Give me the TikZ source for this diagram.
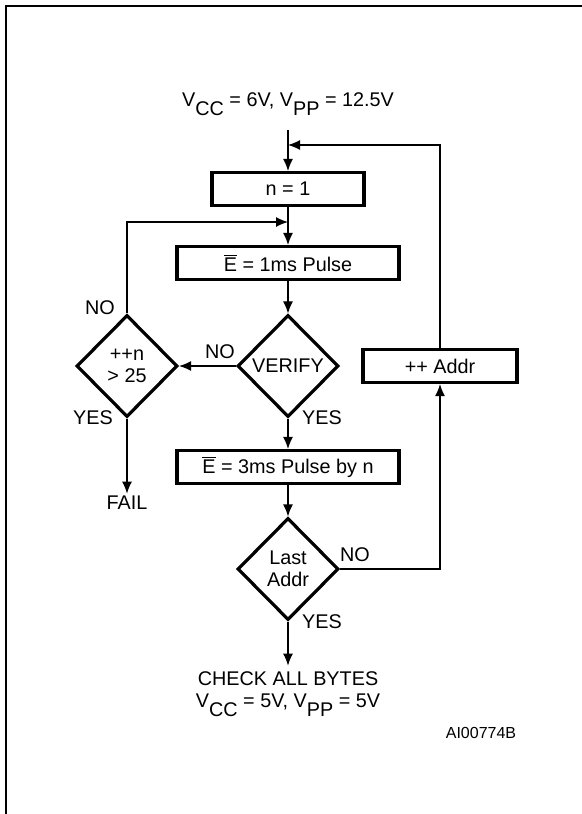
\documentclass[tikz,border=0pt]{standalone}
\usepackage{fontspec}
\setmainfont{Liberation Sans}
\usepackage{tikz}
\usetikzlibrary{shapes.geometric}
\usetikzlibrary{arrows.meta}
\tikzset{>={Latex[width=5pt,length=6pt]}}
\tikzset{
  box/.style={draw, line width=1.6pt, minimum height=16.5pt, inner sep=0pt},
  decision/.style={draw, diamond, line width=1.6pt, inner sep=0pt,
    minimum width=50.5pt, minimum height=51pt, align=center},
  lbl/.style={inner sep=1pt}
}
\newcommand{\lowsub}[1]{\raisebox{-0.45em}{#1}}
\newcommand{\Ebar}{$\overline{\mbox{E}}$}

\begin{document}
\begin{tikzpicture}[x=0.5pt, y=-0.5pt, line width=0.6pt,
  font=\fontsize{9.9}{11}\selectfont]

  \useasboundingbox (0,0) rectangle (582,814);
  \draw[line width=1.2pt] (6,814) -- (6,6) -- (582,6); %% frame

  \node[lbl] (vprog) at (288,104) {V\lowsub{CC} = 6V, V\lowsub{PP} = 12.5V};
  \coordinate (start) at (288,130);
  \coordinate (join1) at (288,145);
  \coordinate (join2) at (288,222);

  \node[box, minimum width=76pt] (init) at (288,189) {n = 1};
  \node[box, minimum width=111pt] (pulse) at (288,263) {\Ebar{} = 1ms Pulse};
  \node[decision] (verify) at (288,366) {VERIFY};
  \node[decision] (count) at (127,366) {++n\\> 25};
  \node[box, minimum width=111pt] (pulse3) at (288,467) {\Ebar{} = 3ms Pulse by n};
  \node[decision] (last) at (288,569) {Last\\Addr};
  \node[box, minimum width=77pt] (addr) at (440,366) {++ Addr};

  \node[lbl] (fail) at (127,503) {FAIL};
  \node[lbl, align=center] (check) at (288,694)
    {CHECK ALL BYTES\\V\lowsub{CC} = 5V, V\lowsub{PP} = 5V};
  \node[lbl, font=\fontsize{8}{9}\selectfont] (ref) at (481,733) {AI00774B};

  \draw[->] (start) -- (init);
  \draw[->] (addr.north) |- (join1); %% addr -> top
  \draw[->] (init) -- (pulse);
  \draw[->] (count.north) |- (join2); %% retry
  \draw[->] (pulse) -- (verify);
  \draw[->] (verify.west) -- (count.east);
  \draw[->] (verify) -- (pulse3);
  \draw[->] (pulse3) -- (last);
  \draw[->] (last.east) -| (addr.south); %% next addr
  \draw[->] (count.south) -- (fail.north);
  \draw[->] (last.south) -- ++(0,44);

  \node[lbl] (no1) at (100,308) {NO};
  \node[lbl] (yes1) at (93,418) {YES};
  \node[lbl] (no2) at (220,352) {NO};
  \node[lbl] (yes2) at (322,418) {YES};
  \node[lbl] (no3) at (355,555) {NO};
  \node[lbl] (yes3) at (322,622) {YES};

\end{tikzpicture}
\end{document}
